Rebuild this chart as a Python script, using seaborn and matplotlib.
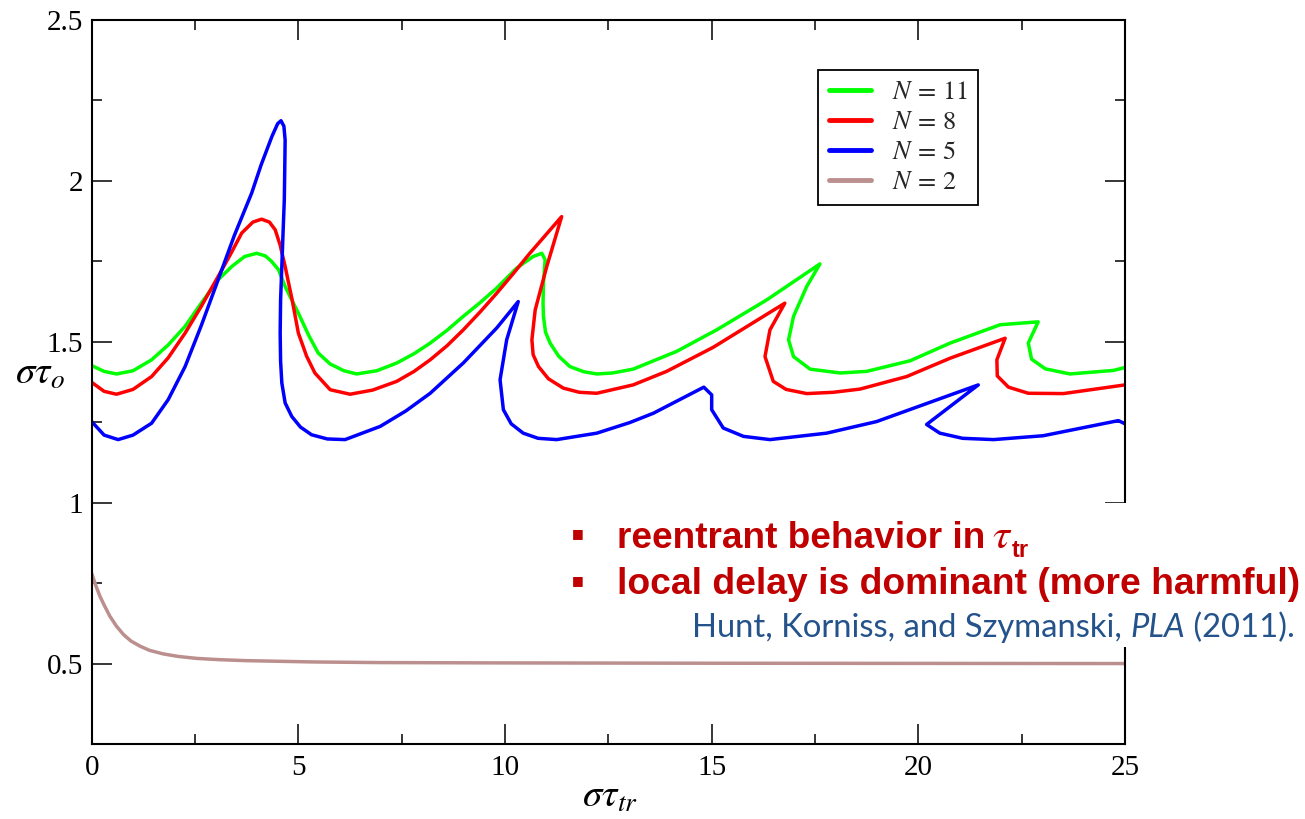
import matplotlib
matplotlib.use("Agg")
import numpy as np
import pandas as pd
import seaborn as sns
import matplotlib.pyplot as plt
from matplotlib.patches import Rectangle
from matplotlib.ticker import MultipleLocator, FixedLocator, FixedFormatter

# ---------------- data ----------------
labels = [r"$N\,=\,11$", r"$N\,=\,8$", r"$N\,=\,5$", r"$N\,=\,2$"]
colors = ["#00ff00", "#ff0000", "#0000ff", "#bc8f8f"]

t_n11 = [0, 0.3, 0.6, 1.0, 1.45, 1.85, 2.26, 2.65, 3.06, 3.39, 3.7, 3.99, 4.2, 4.35, 4.52,
         4.68, 4.84, 5.0, 5.25, 5.48, 5.77, 6.1, 6.41, 6.9, 7.38, 7.8, 8.19, 8.6, 8.99, 9.4, 9.8,
         10.28, 10.68, 10.89, 10.97, 10.93, 10.92, 10.93, 10.98, 11.09, 11.3, 11.57, 11.9,
         12.22, 12.6, 13.1, 14.15, 15.12, 16.33, 17.62, 17.3, 16.98, 16.86, 16.98, 17.38,
         18.11, 18.75, 19.8, 20.77, 21.98, 22.9, 22.66, 22.74, 23.07, 23.67, 24.72, 25.0]
v_n11 = [1.426, 1.408, 1.400, 1.410, 1.444, 1.490, 1.548, 1.620, 1.693, 1.734, 1.765, 1.775,
         1.767, 1.750, 1.724, 1.672, 1.630, 1.589, 1.520, 1.465, 1.431, 1.410, 1.400, 1.410,
         1.434, 1.463, 1.496, 1.536, 1.579, 1.622, 1.667, 1.729, 1.765, 1.775, 1.755, 1.682,
         1.620, 1.579, 1.530, 1.496, 1.455, 1.423, 1.407, 1.400, 1.403, 1.415, 1.470, 1.537,
         1.630, 1.742, 1.672, 1.579, 1.506, 1.454, 1.415, 1.403, 1.408, 1.441, 1.496, 1.553,
         1.562, 1.496, 1.446, 1.416, 1.400, 1.411, 1.420]

t_n8 = [0, 0.3, 0.6, 1.0, 1.45, 1.85, 2.26, 2.65, 3.06, 3.35, 3.63, 3.9, 4.11, 4.3, 4.44,
        4.56, 4.68, 4.85, 5.0, 5.2, 5.4, 5.77, 6.25, 6.8, 7.38, 7.8, 8.19, 8.6, 8.99, 9.4, 9.8,
        10.2, 10.6, 11.37, 11.01, 10.73, 10.65, 10.68, 10.81, 11.05, 11.41, 11.8, 12.22,
        13.1, 13.91, 15.04, 16.77, 16.41, 16.29, 16.49, 16.8, 17.3, 17.94, 18.59, 19.72,
        20.77, 22.1, 21.9, 21.91, 22.18, 22.66, 23.51, 25.0]
v_n8 = [1.374, 1.346, 1.337, 1.352, 1.392, 1.450, 1.527, 1.610, 1.703, 1.770, 1.838, 1.872,
        1.881, 1.872, 1.848, 1.800, 1.734, 1.630, 1.527, 1.455, 1.403, 1.351, 1.337, 1.350,
        1.377, 1.408, 1.444, 1.488, 1.537, 1.593, 1.651, 1.712, 1.775, 1.889, 1.734, 1.599,
        1.506, 1.460, 1.423, 1.385, 1.356, 1.343, 1.340, 1.366, 1.408, 1.483, 1.620, 1.537,
        1.454, 1.377, 1.352, 1.339, 1.343, 1.353, 1.392, 1.449, 1.511, 1.444, 1.394, 1.359,
        1.340, 1.339, 1.366]

t_n5 = [0, 0.3, 0.64, 1.0, 1.45, 1.85, 2.26, 2.65, 3.06, 3.45, 3.87, 4.1, 4.36, 4.5, 4.58,
        4.65, 4.68, 4.67, 4.66, 4.63, 4.6, 4.57, 4.56, 4.57, 4.6, 4.68, 4.84, 5.05, 5.32,
        5.7, 6.13, 6.98, 7.6, 8.19, 8.99, 9.8, 10.32, 10.04, 9.88, 9.96, 10.15, 10.44, 10.8,
        11.25, 12.22, 13.02, 13.59, 14.81, 15.0, 15.0, 15.28, 15.77, 16.41, 17.78, 18.99,
        21.45, 20.2, 20.52, 21.07, 21.82, 23.02, 24.84, 25.0]
v_n5 = [1.252, 1.210, 1.196, 1.210, 1.247, 1.320, 1.423, 1.550, 1.693, 1.830, 1.962, 2.050,
        2.138, 2.178, 2.187, 2.170, 2.127, 2.030, 1.941, 1.840, 1.734, 1.630, 1.527, 1.440,
        1.372, 1.310, 1.268, 1.235, 1.211, 1.198, 1.196, 1.237, 1.285, 1.340, 1.434, 1.543,
        1.625, 1.506, 1.382, 1.289, 1.245, 1.216, 1.200, 1.196, 1.216, 1.249, 1.278, 1.359,
        1.335, 1.289, 1.232, 1.206, 1.196, 1.216, 1.252, 1.366, 1.243, 1.216, 1.200, 1.196,
        1.208, 1.255, 1.245]

t_n2 = [0, 0.1, 0.2, 0.3, 0.44, 0.6, 0.77, 0.95, 1.17, 1.4, 1.73, 2.1, 2.54, 3.1, 3.75,
        5.36, 6.98, 10, 15, 25]
v_n2 = [0.780, 0.742, 0.709, 0.682, 0.647, 0.616, 0.590, 0.570, 0.554, 0.541, 0.530, 0.522,
        0.516, 0.512, 0.509, 0.505, 0.503, 0.502, 0.501, 0.500]

x_ticks = [0, 5, 10, 15, 20, 25]
x_ticklabels = ["0", "5", "10", "15", "20", "25"]
y_ticks = [0.5, 1.0, 1.5, 2.0, 2.5]
y_ticklabels = ["0.5", "1", "1.5", "2", "2.5"]

bullet_1 = "reentrant behavior in"
bullet_2 = "local delay is dominant (more harmful)"
cite_a = "Hunt, Korniss, and Szymanski, "
cite_b = "PLA"
cite_c = " (2011)."

# ---------------- style ----------------
sns.set_theme(style="ticks")
plt.rcParams["font.family"] = ["Liberation Serif", "DejaVu Serif"]
plt.rcParams["mathtext.fontset"] = "stix"

W, H = 1305, 819
fig = plt.figure(figsize=(W / 100, H / 100), dpi=100)
fig.patch.set_facecolor("white")
L, R, T, B = 91.7, 1125.0, 20.0, 744.0
ax = fig.add_axes([L / W, 1 - B / H, (R - L) / W, (B - T) / H])
ax.set_facecolor("white")

series = [(t_n11, v_n11), (t_n8, v_n8), (t_n5, v_n5), (t_n2, v_n2)]
for (tt, vv), lab, col in zip(series, labels, colors):
    df = pd.DataFrame({"t": tt, "v": vv})
    sns.lineplot(data=df, x="t", y="v", sort=False, estimator=None, color=col,
                 linewidth=2.5, label=lab, ax=ax)

ax.set_xlim(0, 25)
ax.set_ylim(0.25, 2.5)
ax.xaxis.set_major_locator(FixedLocator(x_ticks))
ax.xaxis.set_major_formatter(FixedFormatter(x_ticklabels))
ax.yaxis.set_major_locator(FixedLocator(y_ticks))
ax.yaxis.set_major_formatter(FixedFormatter(y_ticklabels))
ax.xaxis.set_minor_locator(MultipleLocator(2.5))
ax.yaxis.set_minor_locator(MultipleLocator(0.25))
ax.tick_params(which="both", direction="in", top=True, right=True, color="black",
               width=1.1, labelsize=21, labelcolor="black")
ax.tick_params(which="major", length=14.4)
ax.tick_params(which="minor", length=7.2)
ax.tick_params(axis="x", which="major", pad=8)
ax.tick_params(axis="y", which="major", pad=6)
for s in ax.spines.values():
    s.set_color("black")
    s.set_linewidth(1.5)

ax.set_xlabel(r"$\sigma\tau_{tr}$", fontsize=28, color="black", va="center")
ax.set_ylabel(r"$\sigma\tau_{o}$", fontsize=28, color="black", rotation=0,
              ha="center", va="center")
ax.xaxis.set_label_coords((610 - L) / (R - L), (B - 797) / (B - T))
ax.yaxis.set_label_coords((40 - L) / (R - L), (B - 374) / (B - T))

leg = ax.legend(loc="upper left", bbox_to_anchor=((818 - L) / (R - L), (B - 70) / (B - T)),
                borderaxespad=0, fancybox=False, framealpha=1, edgecolor="black",
                fontsize=19, handlelength=1.6, handletextpad=0.8, labelspacing=0.25,
                borderpad=0.4)
leg.get_frame().set_linewidth(1.3)
for ln in leg.get_lines():
    ln.set_linewidth(3.5)

# white text box (covers right spine as in the reference)
fig.add_artist(Rectangle((560 / W, 1 - 647 / H), (W - 560) / W, (647 - 503) / H,
                         transform=fig.transFigure, facecolor="white", edgecolor="none",
                         zorder=3))

red = "#c00000"
blue = "#24528a"
renderer = fig.canvas.get_renderer()


def fx(px):
    return px / W


def fy(py):
    return 1 - py / H


def fit(txt, target):
    bb = txt.get_window_extent(renderer)
    txt.set_fontsize(txt.get_fontsize() * target / bb.width)


for yb in (534, 581):
    fig.text(fx(578), fy(yb), "\u25a0", fontsize=9, color=red, ha="center", va="center",
             family="DejaVu Sans", zorder=4)

t1 = fig.text(fx(617), fy(548), bullet_1, fontsize=22, color=red, weight="bold",
              family="Liberation Sans", ha="left", va="baseline", zorder=4)
fit(t1, 985 - 617)
tau = fig.text(fx(992), fy(548), r"$\tau$", fontsize=31, color=red, ha="left",
               va="baseline", zorder=4)
trs = fig.text(fx(1012), fy(557), "tr", fontsize=17, color=red, weight="bold",
               family="Liberation Sans", ha="left", va="baseline", zorder=4)
t2 = fig.text(fx(617), fy(594), bullet_2, fontsize=22, color=red, weight="bold",
              family="Liberation Sans", ha="left", va="baseline", zorder=4)
fit(t2, 1300 - 617)

c1 = fig.text(fx(692), fy(637), cite_a, fontsize=20, color=blue, family="Lato",
              ha="left", va="baseline", zorder=4)
c2 = fig.text(0, fy(637), cite_b, fontsize=20, color=blue, family="Lato", style="italic",
              ha="left", va="baseline", zorder=4)
c3 = fig.text(0, fy(637), cite_c, fontsize=20, color=blue, family="Lato",
              ha="left", va="baseline", zorder=4)
target = 1297 - 692
for _ in range(3):
    x0 = 692
    widths = []
    for c in (c1, c2, c3):
        c.set_x(fx(x0))
        w = c.get_window_extent(renderer).width
        widths.append(w)
        x0 += w
    scale = target / sum(widths)
    for c in (c1, c2, c3):
        c.set_fontsize(c.get_fontsize() * scale)
x0 = 692
for c in (c1, c2, c3):
    c.set_x(fx(x0))
    x0 += c.get_window_extent(renderer).width

fig.savefig("out.png", dpi=100, facecolor="white")
